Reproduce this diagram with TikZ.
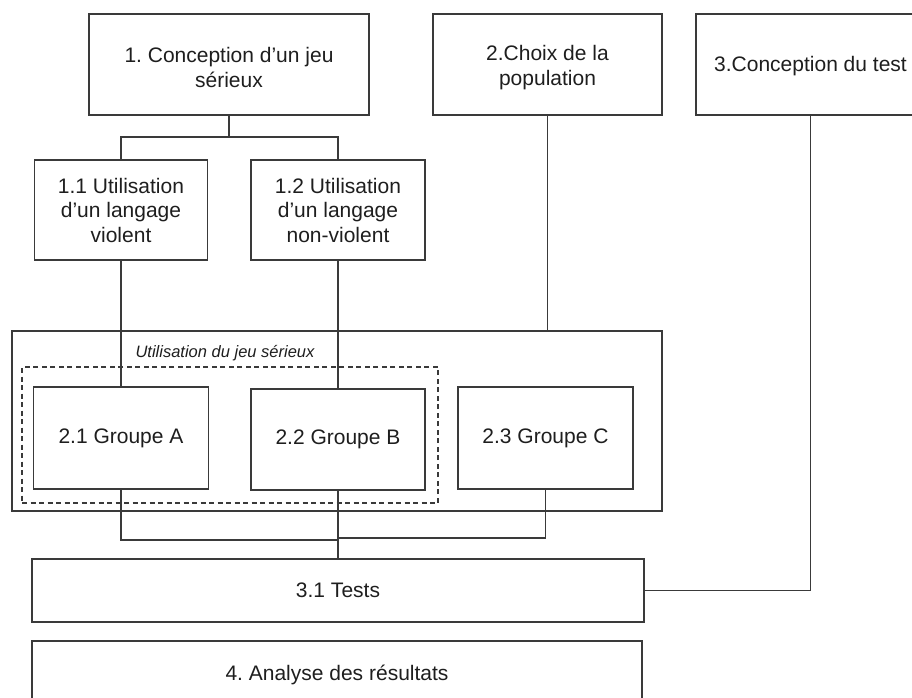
\documentclass[tikz,border=0pt]{standalone}
\usepackage{fontspec}
\setmainfont{Liberation Sans}
\frenchspacing
\definecolor{linegray}{HTML}{3A3A3A}
\definecolor{textgray}{HTML}{1E1E1E}
\begin{document}
\begin{tikzpicture}[x=1pt,y=-1pt,
  boxtext/.style={inner sep=0pt, align=center, text=textgray,
    font=\fontsize{21}{24.5}\selectfont},
  box/.style={boxtext, draw=linegray, line width=1.3pt, rectangle},
  frame/.style={draw=linegray, line width=1.3pt, rectangle, inner sep=0pt},
  dashframe/.style={frame, dash pattern=on 5pt off 3.5pt},
  link/.style={draw=linegray, line width=1.3pt},
  caption/.style={inner sep=0pt, text=textgray,
    font=\fontsize{16.5}{19}\selectfont\itshape},
]
\useasboundingbox (0,0) rectangle (912,698);
\clip (0,0) rectangle (912,698);

% top row: frames, with their texts set a little below centre
\node[box, minimum width=280pt, minimum height=101pt] (b1) at (229,64.5) {};
\node[boxtext] (b1t) at (229,67.5) {1. Conception d’un jeu\\sérieux};
\node[box, minimum width=229pt, minimum height=101pt] (b2) at (547.5,64.5) {};
\node[boxtext] (b2t) at (547.5,67.5) {2.Choix de la\\population};
\node[box, minimum width=229pt, minimum height=101pt] (b3) at (810.5,64.5) {};
\node[boxtext] (b3t) at (810.5,66.5) {3.Conception du test};

% language variants
\node[box, minimum width=173pt, minimum height=100pt] (b11) at (121,210)
  {1.1 Utilisation\\d’un langage\\violent};
\node[box, minimum width=174pt, minimum height=100pt] (b12) at (338,210)
  {1.2 Utilisation\\d’un langage\\non-violent};

% groups
\node[frame, minimum width=650pt, minimum height=180pt] (outer) at (337,421) {};
\node[dashframe, minimum width=416pt, minimum height=136pt] (inner) at (230,435) {};
\node[caption] (lbl) at (225,353) {Utilisation du jeu sérieux};

\node[box, minimum width=175pt, minimum height=102pt] (ga) at (121,438) {2.1 Groupe A};
\node[box, minimum width=174pt, minimum height=101pt] (gb) at (338,439.5) {2.2 Groupe B};
\node[box, minimum width=175pt, minimum height=102pt] (gc) at (545.5,438) {2.3 Groupe C};

% bottom row
\node[box, minimum width=612pt, minimum height=63pt] (tests) at (338,590.5) {3.1 Tests};
\node[box, minimum width=610pt, minimum height=68pt] (ana) at (337,675)
  {4. Analyse des résultats};

% connectors
\coordinate (split) at (229,137);
\draw[link] (b1.south) -- (split);
\draw[link] (split) -| (b11.north);
\draw[link] (split) -| (b12.north);
\draw[link] (b11.south) -- (ga.north);
\draw[link] (b12.south) -- (gb.north);
\draw[link] (b2.south) -- (b2.south |- outer.north);

\coordinate (joinA) at (338,540);
\coordinate (joinC) at (338,538);
\draw[link] (ga.south) |- (joinA);
\draw[link] (gc.south) |- (joinC);
\draw[link] (gb.south) -- (tests.north);
\draw[link] (b3.south) |- (tests.east);
\end{tikzpicture}
\end{document}
